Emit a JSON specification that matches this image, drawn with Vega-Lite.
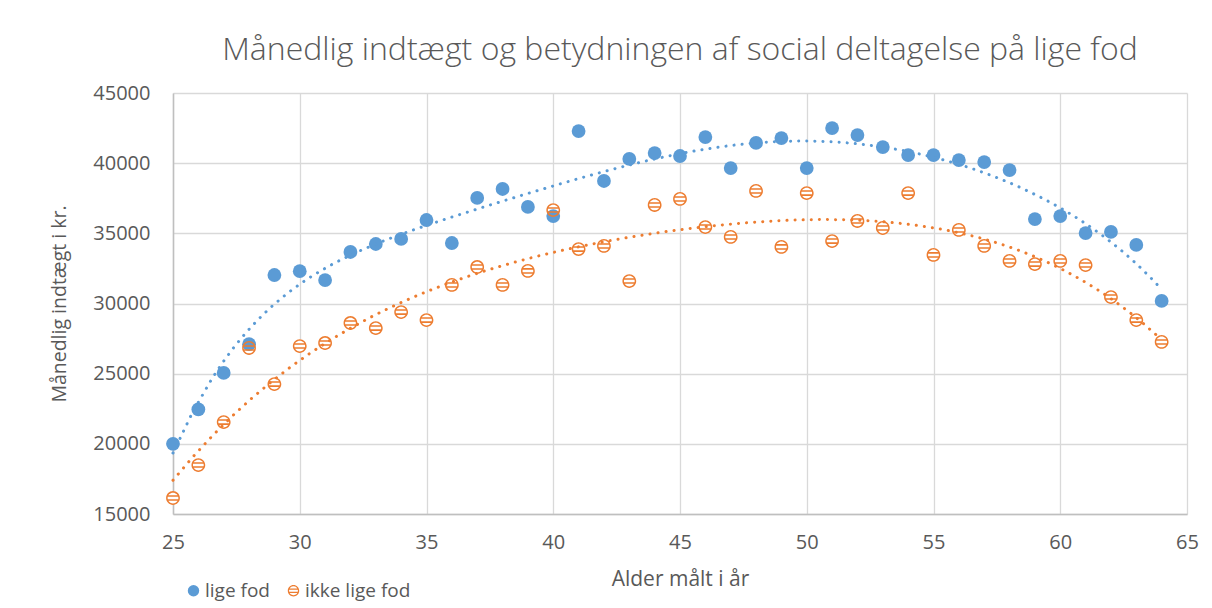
{
  "$schema": "https://vega.github.io/schema/vega-lite/v6.json",
  "width": 1014,
  "height": 421,
  "autosize": {"type": "none"},
  "padding": {"left": 173, "top": 93, "right": 25, "bottom": 94},
  "background": "white",
  "title": {
    "text": "Månedlig indtægt og betydningen af social deltagelse på lige fod",
    "font": "Open Sans",
    "fontSize": 32,
    "fontWeight": 300,
    "color": "#595959",
    "anchor": "middle",
    "offset": 16
  },
  "config": {
    "view": {"stroke": null},
    "axis": {
      "gridColor": "#D9D9D9",
      "gridWidth": 1.3,
      "domainColor": "#BFBFBF",
      "domainWidth": 1.5,
      "ticks": false,
      "tickSize": 0,
      "labelFlush": false,
      "labelFont": "Open Sans",
      "labelFontSize": 20,
      "labelColor": "#595959",
      "titleFont": "Open Sans",
      "titleFontWeight": "normal",
      "titleColor": "#595959"
    },
    "legend": {
      "orient": "none",
      "legendX": 11,
      "legendY": 488,
      "direction": "horizontal",
      "padding": 0,
      "labelFont": "Open Sans",
      "labelFontSize": 19,
      "labelColor": "#595959",
      "symbolSize": 130,
      "columnPadding": 14,
      "labelOffset": 2
    }
  },
  "data": {
    "values": [
      {"age": 25, "income": 20000, "series": "lige fod"},
      {"age": 26, "income": 22450, "series": "lige fod"},
      {"age": 27, "income": 25050, "series": "lige fod"},
      {"age": 28, "income": 27100, "series": "lige fod"},
      {"age": 29, "income": 32030, "series": "lige fod"},
      {"age": 30, "income": 32300, "series": "lige fod"},
      {"age": 31, "income": 31670, "series": "lige fod"},
      {"age": 32, "income": 33670, "series": "lige fod"},
      {"age": 33, "income": 34240, "series": "lige fod"},
      {"age": 34, "income": 34600, "series": "lige fod"},
      {"age": 35, "income": 35950, "series": "lige fod"},
      {"age": 36, "income": 34310, "series": "lige fod"},
      {"age": 37, "income": 37520, "series": "lige fod"},
      {"age": 38, "income": 38160, "series": "lige fod"},
      {"age": 39, "income": 36880, "series": "lige fod"},
      {"age": 40, "income": 36230, "series": "lige fod"},
      {"age": 41, "income": 42290, "series": "lige fod"},
      {"age": 42, "income": 38730, "series": "lige fod"},
      {"age": 43, "income": 40300, "series": "lige fod"},
      {"age": 44, "income": 40720, "series": "lige fod"},
      {"age": 45, "income": 40510, "series": "lige fod"},
      {"age": 46, "income": 41860, "series": "lige fod"},
      {"age": 47, "income": 39650, "series": "lige fod"},
      {"age": 48, "income": 41440, "series": "lige fod"},
      {"age": 49, "income": 41790, "series": "lige fod"},
      {"age": 50, "income": 39650, "series": "lige fod"},
      {"age": 51, "income": 42500, "series": "lige fod"},
      {"age": 52, "income": 42000, "series": "lige fod"},
      {"age": 53, "income": 41150, "series": "lige fod"},
      {"age": 54, "income": 40580, "series": "lige fod"},
      {"age": 55, "income": 40580, "series": "lige fod"},
      {"age": 56, "income": 40220, "series": "lige fod"},
      {"age": 57, "income": 40080, "series": "lige fod"},
      {"age": 58, "income": 39510, "series": "lige fod"},
      {"age": 59, "income": 36020, "series": "lige fod"},
      {"age": 60, "income": 36230, "series": "lige fod"},
      {"age": 61, "income": 35020, "series": "lige fod"},
      {"age": 62, "income": 35100, "series": "lige fod"},
      {"age": 63, "income": 34170, "series": "lige fod"},
      {"age": 64, "income": 30180, "series": "lige fod"},
      {"age": 25, "income": 16140, "series": "ikke lige fod"},
      {"age": 26, "income": 18490, "series": "ikke lige fod"},
      {"age": 27, "income": 21550, "series": "ikke lige fod"},
      {"age": 28, "income": 26830, "series": "ikke lige fod"},
      {"age": 29, "income": 24260, "series": "ikke lige fod"},
      {"age": 30, "income": 26970, "series": "ikke lige fod"},
      {"age": 31, "income": 27185, "series": "ikke lige fod"},
      {"age": 32, "income": 28610, "series": "ikke lige fod"},
      {"age": 33, "income": 28250, "series": "ikke lige fod"},
      {"age": 34, "income": 29390, "series": "ikke lige fod"},
      {"age": 35, "income": 28820, "series": "ikke lige fod"},
      {"age": 36, "income": 31320, "series": "ikke lige fod"},
      {"age": 37, "income": 32600, "series": "ikke lige fod"},
      {"age": 38, "income": 31320, "series": "ikke lige fod"},
      {"age": 39, "income": 32320, "series": "ikke lige fod"},
      {"age": 40, "income": 36660, "series": "ikke lige fod"},
      {"age": 41, "income": 33880, "series": "ikke lige fod"},
      {"age": 42, "income": 34100, "series": "ikke lige fod"},
      {"age": 43, "income": 31600, "series": "ikke lige fod"},
      {"age": 44, "income": 37020, "series": "ikke lige fod"},
      {"age": 45, "income": 37450, "series": "ikke lige fod"},
      {"age": 46, "income": 35450, "series": "ikke lige fod"},
      {"age": 47, "income": 34740, "series": "ikke lige fod"},
      {"age": 48, "income": 38020, "series": "ikke lige fod"},
      {"age": 49, "income": 34030, "series": "ikke lige fod"},
      {"age": 50, "income": 37870, "series": "ikke lige fod"},
      {"age": 51, "income": 34450, "series": "ikke lige fod"},
      {"age": 52, "income": 35880, "series": "ikke lige fod"},
      {"age": 53, "income": 35380, "series": "ikke lige fod"},
      {"age": 54, "income": 37870, "series": "ikke lige fod"},
      {"age": 55, "income": 33460, "series": "ikke lige fod"},
      {"age": 56, "income": 35240, "series": "ikke lige fod"},
      {"age": 57, "income": 34100, "series": "ikke lige fod"},
      {"age": 58, "income": 33030, "series": "ikke lige fod"},
      {"age": 59, "income": 32810, "series": "ikke lige fod"},
      {"age": 60, "income": 33030, "series": "ikke lige fod"},
      {"age": 61, "income": 32740, "series": "ikke lige fod"},
      {"age": 62, "income": 30460, "series": "ikke lige fod"},
      {"age": 63, "income": 28820, "series": "ikke lige fod"},
      {"age": 64, "income": 27260, "series": "ikke lige fod"}
    ]
  },
  "layer": [
    {
      "transform": [{"filter": "datum.series === 'ikke lige fod'"}],
      "mark": {"type": "point", "filled": true, "color": "#FFFFFF", "opacity": 1, "size": 185, "shape": "circle"},
      "encoding": {
        "x": {"field": "age", "type": "quantitative", "scale": {"domain": [25, 65], "nice": false, "zero": false},
              "axis": {"values": [25, 30, 35, 40, 45, 50, 55, 60, 65], "title": "Alder målt i år", "titleFontSize": 21, "labelPadding": 18, "titlePadding": 16}},
        "y": {"field": "income", "type": "quantitative", "scale": {"domain": [15000, 45000], "nice": false, "zero": false},
              "axis": {"values": [15000, 20000, 25000, 30000, 35000, 40000, 45000], "format": "d", "title": "Månedlig indtægt i kr.", "titleFontSize": 19.5, "labelPadding": 23, "titlePadding": 23}}
      }
    },
    {
      "mark": {"type": "point", "filled": true, "opacity": 1, "size": 190},
      "encoding": {
        "x": {"field": "age", "type": "quantitative"},
        "y": {"field": "income", "type": "quantitative"},
        "color": {"field": "series", "type": "nominal", "scale": {"domain": ["lige fod", "ikke lige fod"], "range": ["#5B9BD5", "#ED7D31"]}, "legend": {"title": null}},
        "shape": {"field": "series", "type": "nominal", "scale": {"domain": ["lige fod", "ikke lige fod"], "range": ["circle", "M-1,0A1,1,0,1,1,1,0A1,1,0,1,1,-1,0ZM-0.78,0A0.78,0.78,0,1,0,0.78,0A0.78,0.78,0,1,0,-0.78,0ZM-0.87,-0.41H0.87V-0.18H-0.87ZM-0.87,0.18H0.87V0.41H-0.87Z"]}, "legend": {"title": null}}
      }
    },
    {
      "transform": [
        {"filter": "datum.series === 'lige fod'"},
        {"regression": "income", "on": "age", "method": "poly", "order": 6, "extent": [25, 64]}
      ],
      "mark": {"type": "line", "color": "#5B9BD5", "strokeDash": [0.1, 8], "strokeCap": "round", "strokeWidth": 3},
      "encoding": {"x": {"field": "age", "type": "quantitative"}, "y": {"field": "income", "type": "quantitative"}}
    },
    {
      "transform": [
        {"filter": "datum.series === 'ikke lige fod'"},
        {"regression": "income", "on": "age", "method": "poly", "order": 4, "extent": [25, 64]}
      ],
      "mark": {"type": "line", "color": "#ED7D31", "strokeDash": [0.1, 8], "strokeCap": "round", "strokeWidth": 3},
      "encoding": {"x": {"field": "age", "type": "quantitative"}, "y": {"field": "income", "type": "quantitative"}}
    }
  ]
}
